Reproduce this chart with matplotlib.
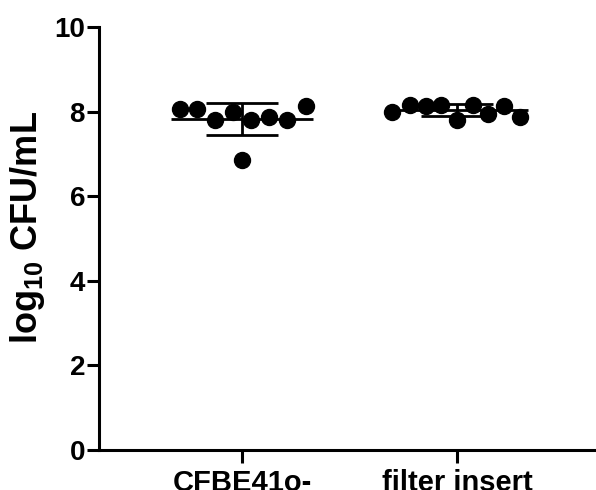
import matplotlib
matplotlib.use("Agg")
import matplotlib.pyplot as plt
import numpy as np

plt.rcParams["font.family"] = ["Liberation Sans", "DejaVu Sans"]
plt.rcParams["font.weight"] = "bold"
plt.rcParams["mathtext.fontset"] = "custom"
plt.rcParams["mathtext.rm"] = "Liberation Sans:bold"
plt.rcParams["mathtext.bf"] = "Liberation Sans:bold"

groups = ["CFBE41o-", "filter insert"]
cfbe_vals = [8.07, 8.07, 7.81, 8.00, 7.79, 7.88, 7.81, 8.12, 6.85]
filter_vals = [7.98, 8.16, 8.14, 8.16, 7.81, 8.16, 7.93, 8.12, 7.86]
# horizontal scatter offsets of the dots within each column
cfbe_offsets = [-0.29, -0.21, -0.125, -0.04, 0.04, 0.125, 0.21, 0.30, 0.0]
filter_offsets = [-0.30, -0.22, -0.145, -0.075, 0.0, 0.075, 0.145, 0.22, 0.295]

fig = plt.figure(figsize=(5.96, 4.90), dpi=100)
ax = fig.add_axes([0.166, 0.082, 0.834, 0.863])

for i, (vals, offs) in enumerate([(cfbe_vals, cfbe_offsets), (filter_vals, filter_offsets)]):
    vals = np.array(vals)
    xs = i + np.array(offs)
    ax.plot(xs, vals, "o", color="black", markersize=11.5, zorder=3, clip_on=False)
    m = vals.mean()
    sd = vals.std(ddof=1)
    ax.hlines(m, i - 0.33, i + 0.33, color="black", linewidth=2.0, zorder=2)
    ax.hlines([m - sd, m + sd], i - 0.167, i + 0.167, color="black", linewidth=2.0, zorder=2)
    ax.vlines(i, m - sd, m + sd, color="black", linewidth=2.0, zorder=2)

ax.set_xlim(-0.665, 1.647)
ax.set_ylim(0, 10)
ax.set_yticks([0, 2, 4, 6, 8, 10])
ax.set_xticks([0, 1])
ax.set_xticklabels(groups, fontsize=21, fontweight="bold")
ax.tick_params(axis="y", labelsize=20, width=2.2, length=9, direction="out", pad=1)
ax.tick_params(axis="x", width=2.2, length=9.5, direction="out", pad=4)
for lab in ax.get_yticklabels():
    lab.set_fontweight("bold")

ax.set_ylabel(r"log$_{10}$ CFU/mL", fontsize=26, fontweight="bold")
ax.yaxis.set_label_coords(-0.105, 0.525)

ax.spines["top"].set_visible(False)
ax.spines["right"].set_visible(False)
ax.spines["left"].set_linewidth(2.2)
ax.spines["bottom"].set_linewidth(2.2)

fig.savefig("out.png", dpi=100)
